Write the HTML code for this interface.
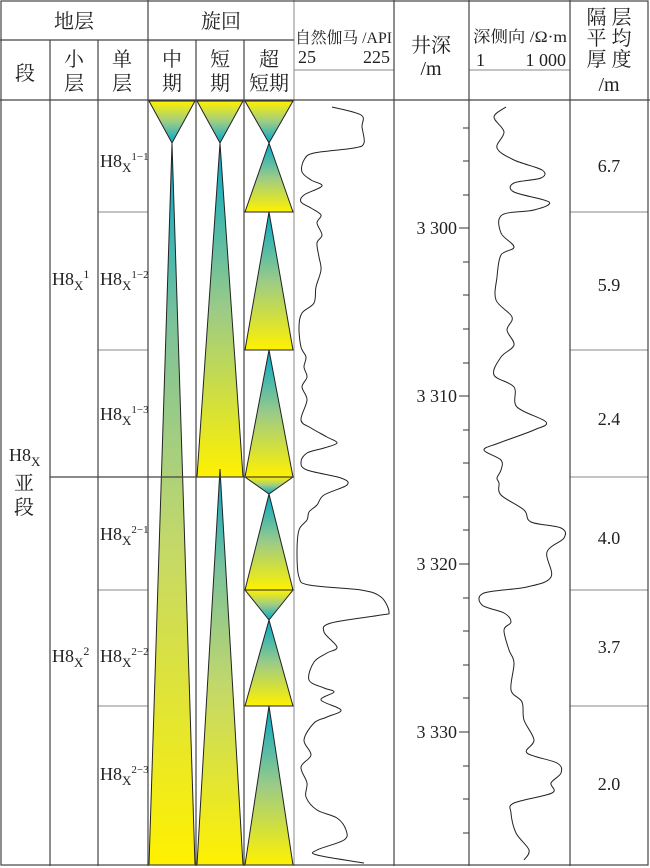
<!DOCTYPE html>
<html><head><meta charset="utf-8"><style>
html,body{margin:0;padding:0;background:#fff}
svg{display:block}
text{font-family:"Liberation Serif","Noto Serif CJK SC",serif;fill:#222}
.c{font-family:"Liberation Serif","Noto Serif CJK SC","Noto Sans CJK SC",serif}
</style></head><body>
<svg width="650" height="868" viewBox="0 0 650 868" xmlns="http://www.w3.org/2000/svg">
<defs>
<linearGradient id="up" x1="0" y1="0" x2="0" y2="1">
<stop offset="0" stop-color="#00a8cc"/><stop offset="0.5" stop-color="#9ccb86"/><stop offset="1" stop-color="#fff100"/></linearGradient>
<linearGradient id="upl" x1="0" y1="0" x2="0" y2="1">
<stop offset="0" stop-color="#00a8cc"/><stop offset="0.25" stop-color="#7cc29a"/><stop offset="0.55" stop-color="#c3d86a"/><stop offset="1" stop-color="#fff100"/></linearGradient>
<linearGradient id="dn" x1="0" y1="1" x2="0" y2="0">
<stop offset="0" stop-color="#00a8cc"/><stop offset="0.5" stop-color="#9ccb86"/><stop offset="1" stop-color="#fff100"/></linearGradient>
</defs>
<g stroke="#222" stroke-width="1" stroke-linejoin="miter">
<polygon points="149,101 195,101 172,143" fill="url(#dn)"/>
<polygon points="172,143 195,865 149,865" fill="url(#upl)"/>
<polygon points="197,101 243,101 220,143" fill="url(#dn)"/>
<polygon points="220,143 243,477 197,477" fill="url(#up)"/>
<polygon points="220,469 243,865 197,865" fill="url(#upl)"/>
<polygon points="245,101 293,101 269,143" fill="url(#dn)"/>
<polygon points="269,143 293,212 245,212" fill="url(#up)"/>
<polygon points="269,212 293,350 245,350" fill="url(#up)"/>
<polygon points="269,350 293,477 245,477" fill="url(#up)"/>
<polygon points="245,477 293,477 269,494" fill="url(#dn)"/>
<polygon points="269,494 293,590 245,590" fill="url(#up)"/>
<polygon points="245,590 293,590 269,620" fill="url(#dn)"/>
<polygon points="269,620 293,706 245,706" fill="url(#up)"/>
<polygon points="269,706 293,865 245,865" fill="url(#up)"/>
</g>
<g stroke="#888" stroke-width="1">
<line x1="98" y1="212" x2="148" y2="212"/><line x1="98" y1="350" x2="148" y2="350"/>
<line x1="98" y1="590" x2="148" y2="590"/><line x1="98" y1="706" x2="148" y2="706"/>
<line x1="570" y1="212" x2="648" y2="212"/><line x1="570" y1="350" x2="648" y2="350"/>
<line x1="570" y1="477" x2="648" y2="477"/><line x1="570" y1="590" x2="648" y2="590"/>
<line x1="570" y1="706" x2="648" y2="706"/>
<line x1="294" y1="70" x2="394" y2="70"/><line x1="469" y1="70" x2="570" y2="70"/>
<line x1="148" y1="40" x2="148" y2="100"/><line x1="294" y1="0" x2="294" y2="866"/>
</g>
<g stroke="#444" stroke-width="1.2" fill="none">
<rect x="1" y="1" width="647" height="864"/>
<line x1="0" y1="40" x2="294" y2="40"/>
<line x1="0" y1="100" x2="650" y2="100"/>
<line x1="50" y1="40" x2="50" y2="866"/>
<line x1="98" y1="40" x2="98" y2="866"/>
<line x1="148" y1="0" x2="148" y2="866"/>
<line x1="196" y1="40" x2="196" y2="866"/>
<line x1="244" y1="40" x2="244" y2="866"/>
<line x1="394" y1="0" x2="394" y2="866"/>
<line x1="469" y1="0" x2="469" y2="866"/>
<line x1="570" y1="0" x2="570" y2="866"/>
<line x1="50" y1="477" x2="148" y2="477"/>
<line x1="148" y1="477" x2="294" y2="477"/>
</g>
<g stroke="#333" stroke-width="1">
<line x1="463" y1="128" x2="469" y2="128"/><line x1="463" y1="161" x2="469" y2="161"/><line x1="463" y1="195" x2="469" y2="195"/>
<line x1="459" y1="228" x2="469" y2="228"/>
<line x1="463" y1="262" x2="469" y2="262"/><line x1="463" y1="295" x2="469" y2="295"/><line x1="463" y1="329" x2="469" y2="329"/><line x1="463" y1="363" x2="469" y2="363"/>
<line x1="459" y1="396" x2="469" y2="396"/>
<line x1="463" y1="430" x2="469" y2="430"/><line x1="463" y1="463" x2="469" y2="463"/><line x1="463" y1="497" x2="469" y2="497"/><line x1="463" y1="530" x2="469" y2="530"/>
<line x1="459" y1="564" x2="469" y2="564"/>
<line x1="463" y1="598" x2="469" y2="598"/><line x1="463" y1="631" x2="469" y2="631"/><line x1="463" y1="665" x2="469" y2="665"/><line x1="463" y1="698" x2="469" y2="698"/>
<line x1="459" y1="732" x2="469" y2="732"/>
<line x1="463" y1="766" x2="469" y2="766"/><line x1="463" y1="799" x2="469" y2="799"/><line x1="463" y1="833" x2="469" y2="833"/>
</g>
<g fill="none" stroke="#222" stroke-width="1" stroke-linejoin="round">
<polyline class="sm" points="332,107 361,115 362,127 364,143 354,148 314,153 304,160 302,172 311,180 322,186 304,195 301,202 311,208 321,215 317,223 322,235 317,243 319,257 321,270 316,287 314,303 302,313 299,327 301,347 306,357 304,367 307,377 302,387 307,400 301,420 311,428 327,437 337,443 324,448 307,453 301,462 307,470 341,478 347,485 324,495 317,505 309,512 307,520 299,530 297,553 299,577 309,585 361,590 381,597 389,612 381,615 331,623 324,632 337,647 327,653 314,662 309,680 324,688 334,692 321,700 341,710 327,717 314,723 304,740 311,755 301,767 307,783 306,797 317,810 337,818 346,830 344,840 317,850 317,855 364,863"/>
<polyline class="sm" points="506,107 494,117 504,132 497,148 514,160 542,170 541,178 514,183 514,192 549,202 534,210 502,215 501,233 514,247 501,255 497,277 496,300 512,317 507,330 514,345 501,357 494,375 514,387 517,407 546,422 534,430 499,443 484,450 501,460 501,470 497,478 499,483 501,495 524,510 531,522 561,528 564,538 547,552 551,577 527,587 484,593 482,605 504,613 511,622 504,630 509,650 514,663 511,690 522,702 524,720 534,740 527,753 557,763 561,773 551,783 552,793 514,803 511,813 516,833 529,850 524,860"/>
</g>
<g class="c" font-size="20" text-anchor="middle">
<text x="74" y="28">地层</text>
<text x="221" y="28">旋回</text>
<text x="25" y="80">段</text>
<text x="74" y="66">小</text><text x="74" y="90">层</text>
<text x="122" y="66">单</text><text x="122" y="90">层</text>
<text x="172" y="66">中</text><text x="172" y="90">期</text>
<text x="220" y="66">短</text><text x="220" y="90">期</text>
<text x="269" y="66">超</text><text x="269" y="90">短期</text>
<text x="431" y="52">井深</text>
<text x="431" y="75">/m</text>
<text x="609" y="24">隔 层</text>
<text x="609" y="45">平 均</text>
<text x="609" y="66">厚 度</text>
<text x="609" y="91">/m</text>
</g>
<g class="c" font-size="16">
<text x="295" y="43" textLength="97" lengthAdjust="spacingAndGlyphs">自然伽马 /API</text>
<text x="298" y="63" font-size="18">25</text>
<text x="390" y="63" font-size="18" text-anchor="end">225</text>
<text x="473" y="42" textLength="94" lengthAdjust="spacingAndGlyphs">深侧向 /Ω·m</text>
<text x="476" y="66" font-size="18">1</text>
<text x="566" y="66" font-size="18" text-anchor="end">1 000</text>
</g>
<g font-size="18" text-anchor="end">
<text x="457" y="234">3 300</text>
<text x="457" y="402">3 310</text>
<text x="457" y="570">3 320</text>
<text x="457" y="738">3 330</text>
</g>
<g font-size="18" text-anchor="middle">
<text x="609" y="172">6.7</text>
<text x="609" y="291">5.9</text>
<text x="609" y="425">2.4</text>
<text x="609" y="544">4.0</text>
<text x="609" y="653">3.7</text>
<text x="609" y="790">2.0</text>
</g>
<g font-size="18">
<text x="9" y="461">H8<tspan font-size="13" dy="5">X</tspan></text>
<text class="c" x="14" y="490" font-size="20">亚</text>
<text class="c" x="14" y="514" font-size="20">段</text>
<text x="52" y="285">H8<tspan font-size="13" dy="5">X</tspan><tspan font-size="12" dy="-12">1</tspan></text>
<text x="52" y="662">H8<tspan font-size="13" dy="5">X</tspan><tspan font-size="12" dy="-12">2</tspan></text>
<text x="100" y="167">H8<tspan font-size="13" dy="5">X</tspan><tspan font-size="11" dy="-12">1−1</tspan></text>
<text x="100" y="285">H8<tspan font-size="13" dy="5">X</tspan><tspan font-size="11" dy="-12">1−2</tspan></text>
<text x="100" y="420">H8<tspan font-size="13" dy="5">X</tspan><tspan font-size="11" dy="-12">1−3</tspan></text>
<text x="100" y="540">H8<tspan font-size="13" dy="5">X</tspan><tspan font-size="11" dy="-12">2−1</tspan></text>
<text x="100" y="662">H8<tspan font-size="13" dy="5">X</tspan><tspan font-size="11" dy="-12">2−2</tspan></text>
<text x="100" y="780">H8<tspan font-size="13" dy="5">X</tspan><tspan font-size="11" dy="-12">2−3</tspan></text>
</g>
</svg>
<script>
document.querySelectorAll('polyline.sm').forEach(function(pl){
  var p=pl.getAttribute('points').trim().split(/\s+/).map(function(s){return s.split(',').map(Number);});
  var d='M'+p[0][0]+','+p[0][1];
  for(var i=0;i<p.length-1;i++){
    var p0=p[i-1]||p[i],p1=p[i],p2=p[i+1],p3=p[i+2]||p2;
    var c1x=p1[0]+(p2[0]-p0[0])/6,c1y=p1[1]+(p2[1]-p0[1])/6;
    var c2x=p2[0]-(p3[0]-p1[0])/6,c2y=p2[1]-(p3[1]-p1[1])/6;
    d+=' C'+c1x.toFixed(1)+','+c1y.toFixed(1)+' '+c2x.toFixed(1)+','+c2y.toFixed(1)+' '+p2[0]+','+p2[1];
  }
  var path=document.createElementNS('http://www.w3.org/2000/svg','path');
  path.setAttribute('d',d);
  pl.parentNode.replaceChild(path,pl);
});
</script>
</body></html>
